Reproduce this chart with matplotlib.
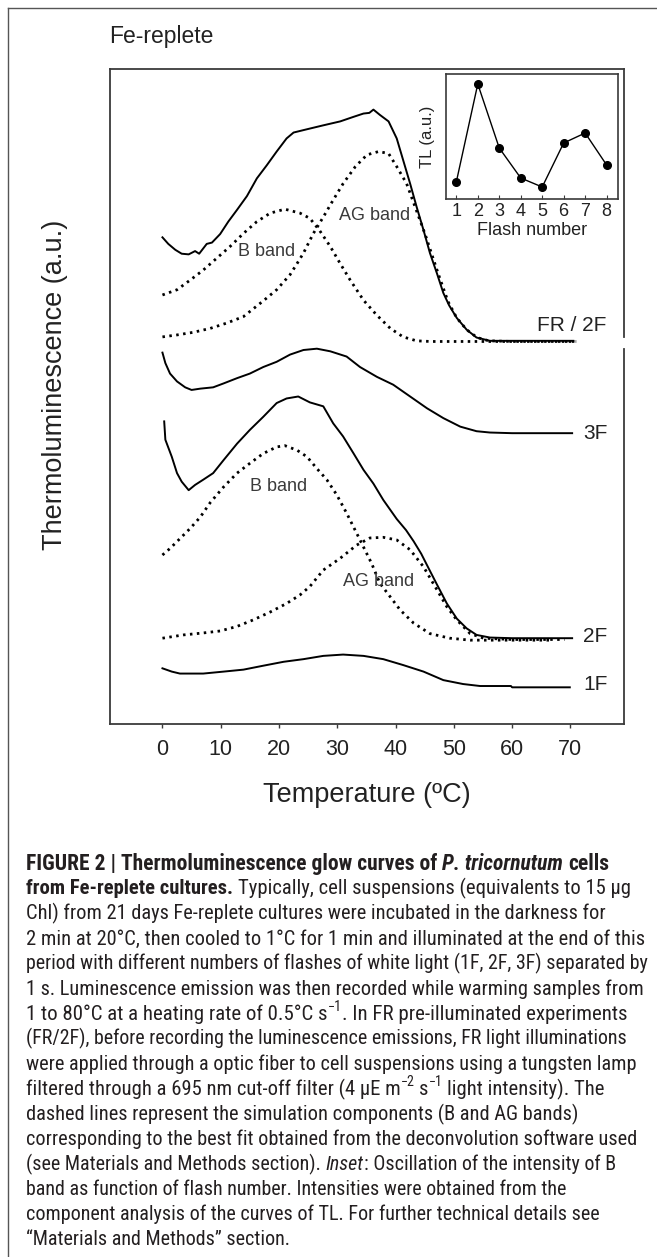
import matplotlib
matplotlib.use('Agg')
import matplotlib.pyplot as plt
from matplotlib import font_manager as fm

# ---- data (temperature in degC, TL in a.u.) ----
fr_t = [0, 1, 2.2, 3.3, 4.5, 5.6, 6.3, 7.6, 8.5, 9.9, 11.3, 12.8, 14.5, 16.2, 17.9, 19.6,
        21.3, 22.5, 24.8, 27.6, 30.5, 32.8, 34.5, 35.5, 36.2, 37.3, 38.8, 40.2, 41.3, 42.5,
        43.6, 44.8, 45.9, 47.1, 48.2, 49.2, 50.5, 52.2, 53.9, 56.2, 60, 65, 70.5]
fr_y = [74.3, 73.3, 72.4, 71.8, 71.7, 72.2, 71.8, 73.3, 73.5, 74.8, 76.7, 78.5, 80.6, 83.3,
        85.3, 87.4, 89.4, 90.3, 90.8, 91.4, 92.0, 92.7, 93.2, 93.3, 93.8, 93.0, 92.0, 89.4,
        86.1, 82.5, 79.0, 75.4, 71.9, 68.8, 65.8, 63.9, 62.0, 60.2, 59.0, 58.5, 58.5, 58.5, 58.5]

frb_t = [0, 2.5, 4.8, 7, 9.3, 11.6, 13.9, 16.2, 18.5, 21, 23.6, 25.3, 27, 28.8, 30.5, 32.2,
         34.5, 36.8, 39.1, 41.3, 43.6, 46, 50, 55, 60, 65, 71]
frb_y = [65.5, 66.3, 67.8, 69.3, 71.1, 72.9, 74.9, 76.7, 78.0, 78.6, 78.0, 77.2, 75.3, 72.9,
         70.3, 67.8, 64.7, 62.4, 60.4, 59.1, 58.5, 58.4, 58.4, 58.4, 58.4, 58.4, 58.4]

frag_t = [0, 2.5, 5.3, 8.2, 11, 13.9, 15.6, 17.3, 19.6, 21.9, 23.1, 24.2, 25.9, 27.6, 29.3,
          31, 33.1, 35.1, 37.1, 38.8, 40.2, 41.9, 43.5, 45.1, 47.3, 49, 50.5, 52.2, 54, 56,
          60, 65, 71]
frag_y = [59.1, 59.4, 59.8, 60.4, 61.2, 62.2, 63.4, 64.6, 66.3, 68.6, 70.3, 71.9, 74.9, 77.4,
          80.0, 82.5, 85.1, 86.9, 87.4, 87.1, 85.1, 82.5, 78.6, 74.7, 68.8, 64.5, 62.0, 60.2,
          59.0, 58.5, 58.4, 58.4, 58.4]

f3_t = [0, 0.5, 1.3, 2.5, 3.9, 5, 6.5, 8.7, 10.5, 12.8, 15, 17.3, 19.6, 21.9, 24.2, 26.5,
        28.8, 31.6, 33.9, 36.8, 39.6, 42.5, 45.4, 48.2, 51.1, 53.9, 56.2, 60, 65, 70.3]
f3_y = [56.7, 55.1, 53.5, 52.3, 51.4, 51.0, 51.2, 51.4, 52.0, 52.8, 53.5, 54.5, 55.3, 56.4,
        57.1, 57.3, 56.9, 56.1, 54.5, 53.0, 51.8, 50.0, 48.2, 46.7, 45.4, 44.7, 44.5, 44.4,
        44.4, 44.4]

f2_t = [0.3, 0.5, 1.6, 2.5, 3.3, 4.5, 5.6, 7, 8.7, 10.5, 12.8, 15, 17.3, 19.6, 21.3, 23.3,
        25.3, 27.6, 29.3, 31, 32.8, 34.5, 36.2, 37.9, 40.2, 41.8, 43.1, 44.4, 45.6, 47.1,
        48.8, 50.5, 52.2, 53.9, 56.2, 60, 65, 70.3]
f2_y = [46.2, 43.4, 40.8, 38.3, 37.0, 35.7, 36.5, 37.3, 38.3, 40.3, 42.8, 44.9, 46.9, 49.0,
        49.7, 50.0, 49.1, 48.5, 45.9, 43.9, 41.3, 38.8, 36.7, 34.2, 31.3, 29.6, 27.9, 26.0,
        23.9, 21.3, 18.4, 16.1, 14.6, 13.6, 13.2, 13.1, 13.1, 13.1]

f2b_t = [0, 1.3, 3, 4.8, 6.5, 8.2, 10.5, 12.8, 15, 17.3, 19.6, 21, 23.1, 24.8, 26.5, 28.2,
         29.9, 31.6, 33.9, 35.9, 37.3, 39.1, 40.8, 43.1, 45.9, 49.3, 52.8, 58, 63, 67]
f2b_y = [25.8, 26.8, 28.3, 29.9, 31.6, 33.8, 36.2, 38.3, 39.8, 41.3, 42.3, 42.5, 41.8, 40.8,
         39.0, 37.3, 35.0, 32.2, 28.1, 24.5, 21.5, 19.4, 17.4, 15.4, 13.8, 13.1, 12.8, 12.8,
         12.8, 12.8]

f2ag_t = [0, 3.6, 7, 9.9, 12.8, 15.6, 18.5, 21.3, 23.6, 25.3, 27.6, 30.5, 33.3, 35.6, 37.9,
          40.2, 42.5, 44.8, 47.1, 48.8, 50.5, 52.8, 55.1, 60, 65, 69]
f2ag_y = [13.1, 13.6, 13.9, 14.2, 14.9, 15.9, 17.1, 18.4, 19.7, 21.0, 23.5, 25.3, 27.3, 28.4,
          28.5, 28.1, 26.6, 24.0, 20.5, 17.9, 15.9, 13.8, 13.1, 12.9, 12.9, 12.9]

f1_t = [0, 1.6, 3, 7, 10.5, 13.9, 17.3, 20.8, 24.2, 27.6, 31, 34.5, 37.9, 41.3, 44.8, 48.2,
        51.6, 54.5, 57.9, 59.8, 60, 65, 69.9]
f1_y = [8.5, 8.0, 7.7, 7.7, 8.0, 8.3, 8.9, 9.5, 9.9, 10.4, 10.6, 10.4, 9.9, 9.0, 8.0, 6.7,
        6.1, 5.8, 5.8, 5.8, 5.6, 5.6, 5.6]

# inset: B band intensity vs flash number
flashes = [1, 2, 3, 4, 5, 6, 7, 8]
b_int = [17, 115, 51, 21, 12, 56, 66, 34]

xticks = [0, 10, 20, 30, 40, 50, 60, 70]


def pick_font(names):
    for n in names:
        try:
            fm.findfont(fm.FontProperties(family=n), fallback_to_default=False)
            return n
        except Exception:
            pass
    return 'DejaVu Sans'


SANS = pick_font(['Liberation Sans', 'Arial', 'DejaVu Sans'])
NARROW = pick_font(['Liberation Sans Narrow', 'Roboto Condensed', 'DejaVu Sans Condensed',
                    'Liberation Sans'])
plt.rcParams['font.family'] = [SANS, 'DejaVu Sans']

W, H = 657, 1257
fig = plt.figure(figsize=(W / 100, H / 100), dpi=100)
ink = '#222222'
frame = '#3a3a3a'

# outer figure border (top and left only visible)
fig.add_artist(plt.Line2D([8 / W, 1], [1 - 8 / H, 1 - 8 / H], color='#555555', lw=1.0))
fig.add_artist(plt.Line2D([8 / W, 8 / W], [0, 1 - 8 / H], color='#555555', lw=1.0))

fig.text(109 / W, 1 - 36 / H, 'Fe-replete', fontsize=16.5, color=ink, va='center', ha='left')

# ---- main panel ----
ax = fig.add_axes([110 / W, 1 - 724 / H, 514 / W, 655 / H])
solid = dict(color='black', lw=1.4)
dots = dict(color='black', lw=2.0, linestyle=(0, (0.9, 1.6)))

ax.plot(fr_t, fr_y, **solid)
ax.plot(frb_t, frb_y, **dots)
ax.plot(frag_t, frag_y, **dots)
ax.plot(f3_t, f3_y, **solid)
ax.plot(f2_t, f2_y, **solid)
ax.plot(f2b_t, f2b_y, **dots)
ax.plot(f2ag_t, f2ag_y, **dots)
ax.plot(f1_t, f1_y, **solid)

ax.set_xlim(-9, 79.2)
ax.set_ylim(0, 100)
ax.set_xticks(xticks)
ax.set_yticks([])
ax.tick_params(axis='x', direction='out', length=3, width=1, color=frame,
               labelsize=15.5, pad=8, labelcolor=ink)
for s in ['left', 'top', 'bottom']:
    ax.spines[s].set_color(frame)
    ax.spines[s].set_linewidth(1.3)
ax.spines['right'].set_visible(False)
# right spine has a small break near the FR/2F trace
ax.plot([1, 1], [1, 0.591], transform=ax.transAxes, color=frame, lw=1.3, clip_on=False)
ax.plot([1, 1], [0.5725, 0], transform=ax.transAxes, color=frame, lw=1.3, clip_on=False)

lab = dict(fontsize=15, color=ink, va='center', ha='left')
ax.text(64.2, 60.9, 'FR / 2F', **lab)
ax.text(72.2, 44.4, '3F', **lab)
ax.text(72.2, 13.3, '2F', **lab)
ax.text(72.2, 6.0, '1F', **lab)

band = dict(fontsize=13, color='#3a3a3a', va='center', ha='left')
ax.text(30.3, 77.6, 'AG band', **band)
ax.text(13.0, 72.1, 'B band', **band)
ax.text(15.0, 36.2, 'B band', **band)
ax.text(31.0, 21.7, 'AG band', **band)

fig.text(367 / W, 1 - 795 / H, 'Temperature (ºC)', fontsize=19.5, color=ink,
         ha='center', va='center')
fig.text(55 / W, 1 - 385 / H, 'Thermoluminescence (a.u.)', fontsize=19.5, color=ink,
         ha='center', va='center', rotation=90)

# ---- inset ----
axi = fig.add_axes([446 / W, 1 - 199 / H, 172 / W, 125 / H])
axi.plot(flashes, b_int, color='black', lw=1.0, marker='o', markersize=5.5)
axi.set_xlim(0.52, 8.53)
axi.set_ylim(0, 125)
axi.set_xticks(flashes)
axi.set_yticks([])
axi.tick_params(axis='x', direction='in', length=3, width=0.8, color=frame,
                labelsize=13, pad=3, labelcolor=ink)
for s in axi.spines.values():
    s.set_color(frame)
    s.set_linewidth(1.2)
axi.set_xlabel('Flash number', fontsize=13, color=ink, labelpad=1)
axi.set_ylabel('TL (a.u.)', fontsize=12, color=ink, labelpad=8)

# ---- caption ----
cap_lines = [
    [("FIGURE 2 | Thermoluminescence glow curves of ", 'b'), ("P. tricornutum", 'bi'),
     (" cells", 'b')],
    [("from Fe-replete cultures.", 'b'),
     (" Typically, cell suspensions (equivalents to 15 \u03bcg", '')],
    [("Chl) from 21 days Fe-replete cultures were incubated in the darkness for", '')],
    [("2 min at 20\u00b0C, then cooled to 1\u00b0C for 1 min and illuminated at the end of this", '')],
    [("period with different numbers of flashes of white light (1F, 2F, 3F) separated by", '')],
    [("1 s. Luminescence emission was then recorded while warming samples from", '')],
    [("1 to 80\u00b0C at a heating rate of 0.5\u00b0C s", ''), ("\u22121", 'sup'),
     (". In FR pre-illuminated experiments", '')],
    [("(FR/2F), before recording the luminescence emissions, FR light illuminations", '')],
    [("were applied through a optic fiber to cell suspensions using a tungsten lamp", '')],
    [("filtered through a 695 nm cut-off filter (4 \u03bcE m", ''), ("\u22122", 'sup'),
     (" s", ''), ("\u22121", 'sup'), (" light intensity). The", '')],
    [("dashed lines represent the simulation components (B and AG bands)", '')],
    [("corresponding to the best fit obtained from the deconvolution software used", '')],
    [("(see Materials and Methods section). ", ''), ("Inset", 'i'),
     (": Oscillation of the intensity of B", '')],
    [("band as function of flash number. Intensities were obtained from the", '')],
    [("component analysis of the curves of TL. For further technical details see", '')],
    [("\u201cMaterials and Methods\u201d section.", '')],
]
cap_right = [628, 630, 603, 641, 647, 640, 626, 628, 635, 603, 576, 635, 614, 568, 599, 289]
CAP_LEFT = 26
CAP_TOP = 862
CAP_STEP = 25.07

renderer = fig.canvas.get_renderer()


def props(kind, size):
    return dict(fontsize=size * (0.68 if kind == 'sup' else 1.0),
                fontweight='bold' if 'b' in kind else 'normal',
                fontstyle='italic' if 'i' in kind else 'normal',
                family=[NARROW, 'DejaVu Sans'], color='#231f20')


def width_px(s, kw):
    t = fig.text(0, 0, s, **kw)
    w = t.get_window_extent(renderer).width
    t.remove()
    return w


def draw_line(segs, yc, size, keep=True):
    x = CAP_LEFT
    base = yc + 0.36 * size * 100 / 72
    for txt, kind in segs:
        kw = props(kind, size)
        sw = width_px('n n', kw) - width_px('nn', kw)
        body = txt.strip(' ')
        x += (len(txt) - len(txt.lstrip(' '))) * sw
        yy = base - (0.42 * size * 100 / 72 if kind == 'sup' else 0)
        t = fig.text(x / W, 1 - yy / H, body, ha='left', va='baseline', **kw)
        x += t.get_window_extent(renderer).width
        if not keep:
            t.remove()
        x += (len(txt) - len(txt.rstrip(' '))) * sw
    return x


# size each caption line so it spans about as far as in the figure,
# keeping all lines close to one common size and inside the page
base_size = 12.0
ratios = []
for segs, r in zip(cap_lines, cap_right):
    end = draw_line(segs, 0, base_size, keep=False)
    ratios.append(((r - CAP_LEFT) / (end - CAP_LEFT), (648 - CAP_LEFT) / (end - CAP_LEFT)))
med = sorted(a for a, _ in ratios)[len(ratios) // 2]

for i, segs in enumerate(cap_lines):
    want, limit = ratios[i]
    k = min(max(want, med * 0.95), med * 1.06, limit)
    draw_line(segs, CAP_TOP + i * CAP_STEP, base_size * k)

fig.savefig('out.png', dpi=100)
